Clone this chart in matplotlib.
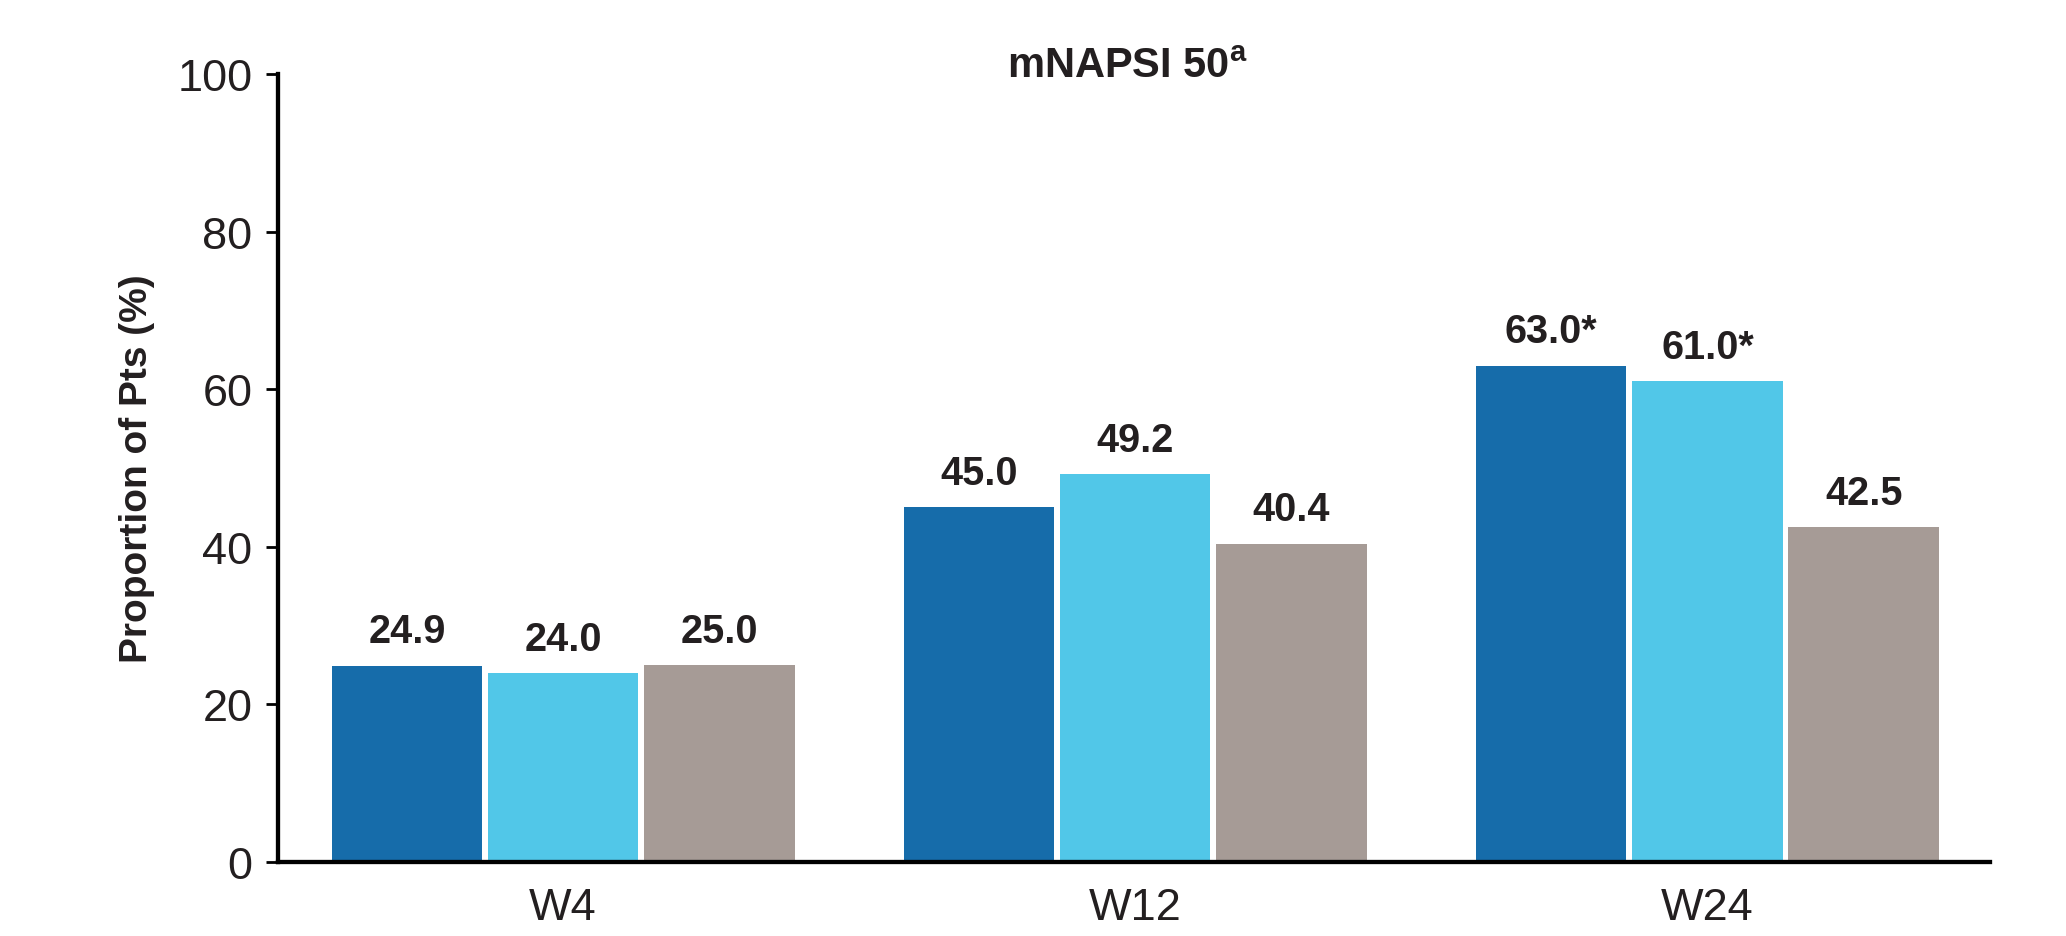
import numpy as np
import matplotlib
matplotlib.use("Agg")
import matplotlib.pyplot as plt

plt.rcParams['font.family'] = ['Liberation Sans', 'DejaVu Sans']
plt.rcParams['mathtext.fontset'] = 'custom'
plt.rcParams['mathtext.rm'] = 'Liberation Sans'

# mNAPSI 50 response by visit, three treatment arms
weeks = ["W4", "W12", "W24"]
arm1 = [24.9, 45.0, 63.0]
arm2 = [24.0, 49.2, 61.0]
arm3 = [25.0, 40.4, 42.5]
labels1 = ["24.9", "45.0", "63.0*"]
labels2 = ["24.0", "49.2", "61.0*"]
labels3 = ["25.0", "40.4", "42.5"]

colors = ["#166CAA", "#51C7E8", "#A69B96"]
text_color = "#231F20"

fig = plt.figure(figsize=(20.66, 9.37), dpi=100)
ax = fig.add_axes([0.1346, 0.079, 0.963 - 0.1346, 0.841])

x = np.arange(len(weeks))
width = 0.263
step = 0.273

for i, (vals, labs) in enumerate([(arm1, labels1), (arm2, labels2), (arm3, labels3)]):
    bars = ax.bar(x + (i - 1) * step, vals, width, color=colors[i])
    for b, lab in zip(bars, labs):
        ax.annotate(lab, (b.get_x() + b.get_width() / 2, b.get_height()),
                    xytext=(0, 11), textcoords="offset points",
                    ha="center", va="bottom", fontsize=28.5, fontweight="bold",
                    color=text_color)

ax.set_xlim(-0.498, 2.493)
ax.set_ylim(0, 100)
ax.set_yticks([0, 20, 40, 60, 80, 100])
ax.set_xticks(x)
ax.set_xticklabels(weeks)

ax.spines['top'].set_visible(False)
ax.spines['right'].set_visible(False)
ax.spines['left'].set_linewidth(3.1)
ax.spines['bottom'].set_linewidth(3.1)

ax.tick_params(axis='y', length=8.6, width=2.0, pad=10, labelsize=32.5,
               labelcolor=text_color)
ax.tick_params(axis='x', length=0, pad=18, labelsize=32.5, labelcolor=text_color)

ax.set_ylabel("Proportion of Pts (%)", fontsize=28, fontweight="bold",
              color=text_color, labelpad=16)

fig.text(0.5455, 0.928, r"mNAPSI 50$^{\mathregular{a}}$", ha="center",
         va="center", fontsize=30, fontweight="bold", color=text_color)

fig.savefig("out.png", dpi=100)
